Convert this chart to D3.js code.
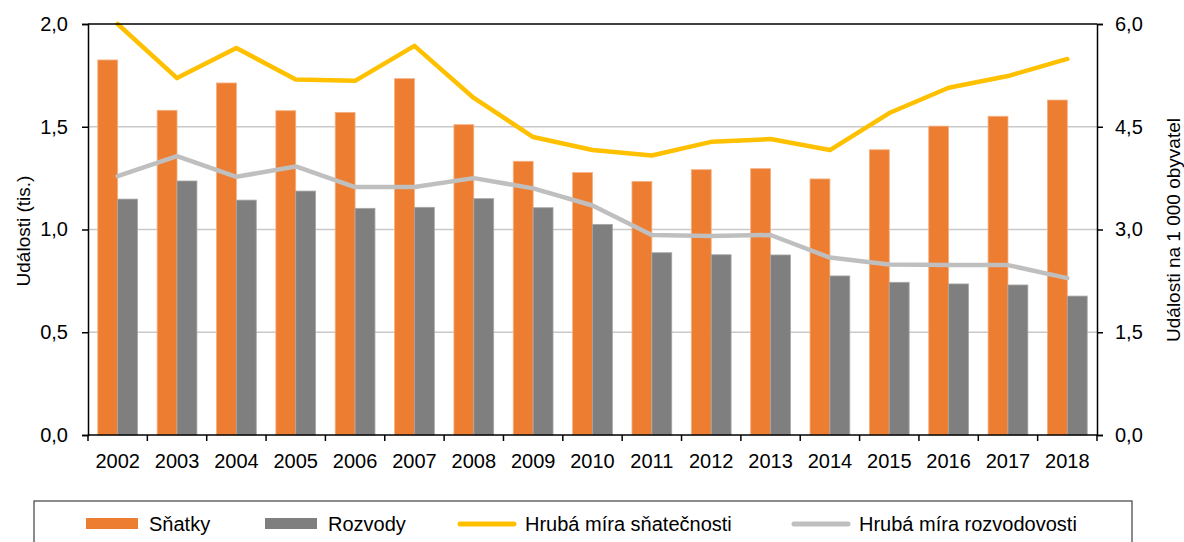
<!DOCTYPE html>
<html>
<head>
<meta charset="utf-8">
<script src="https://cdn.jsdelivr.net/npm/d3@7"></script>
<style>
  body { margin: 0; background: #fff; }
  text { font-family: "Liberation Sans", Arial, sans-serif; fill: #000; }
</style>
</head>
<body>
<div id="main"></div>
<script>
// data
var years = ["2002","2003","2004","2005","2006","2007","2008","2009","2010","2011","2012","2013","2014","2015","2016","2017","2018"];
var snatky = [1.825, 1.58, 1.713, 1.578, 1.570, 1.734, 1.510, 1.332, 1.277, 1.234, 1.291, 1.296, 1.246, 1.388, 1.503, 1.551, 1.630];
var rozvody = [1.148, 1.236, 1.143, 1.187, 1.103, 1.108, 1.150, 1.106, 1.025, 0.887, 0.877, 0.876, 0.774, 0.743, 0.735, 0.730, 0.676];
var miraSnatecnosti = [6.0, 5.21, 5.65, 5.19, 5.17, 5.68, 4.92, 4.35, 4.16, 4.08, 4.28, 4.32, 4.16, 4.70, 5.07, 5.24, 5.49];
var miraRozvodovosti = [3.78, 4.07, 3.77, 3.92, 3.62, 3.62, 3.75, 3.60, 3.35, 2.92, 2.905, 2.92, 2.59, 2.49, 2.48, 2.48, 2.29];
var leftTicks = [0, 0.5, 1.0, 1.5, 2.0];
var rightTicks = [0, 1.5, 3.0, 4.5, 6.0];
var legendItems = [
  {name: "Sňatky", type: "bar", color: "#ED7D31"},
  {name: "Rozvody", type: "bar", color: "#7F7F7F"},
  {name: "Hrubá míra sňatečnosti", type: "line", color: "#FFC000"},
  {name: "Hrubá míra rozvodovosti", type: "line", color: "#BFBFBF"}
];

var W = 1184, H = 542;
var margin = {top: 24, right: 87, bottom: 107, left: 88},
    width = W - margin.left - margin.right,
    height = H - margin.top - margin.bottom;

var fmt = function(d) { return d3.format(".1f")(d).replace(".", ","); };

var root = d3.select("#main")
  .append("svg")
    .attr("width", W)
    .attr("height", H);

var svg = root.append("g")
    .attr("transform", "translate(" + margin.left + "," + margin.top + ")");

var x = d3.scaleBand()
    .domain(years)
    .range([0, width])
    .paddingInner(0.33)
    .paddingOuter(0.165);

var xSub = d3.scaleBand()
    .domain(["s", "r"])
    .range([0, x.bandwidth()]);

var yL = d3.scaleLinear().domain([0, 2]).range([height, 0]);
var yR = d3.scaleLinear().domain([0, 6]).range([height, 0]);

// gridlines
svg.append("g")
  .selectAll("line")
  .data(leftTicks.filter(function(d) { return d > 0 && d < 2; }))
  .enter().append("line")
    .attr("x1", 0).attr("x2", width)
    .attr("y1", function(d) { return yL(d); })
    .attr("y2", function(d) { return yL(d); })
    .attr("stroke", "#c9c9c9")
    .attr("stroke-width", 1.5);

// bars
var groups = svg.append("g")
  .selectAll("g")
  .data(years)
  .enter().append("g")
    .attr("transform", function(d) { return "translate(" + x(d) + ",0)"; });

groups.append("rect")
    .attr("x", xSub("s"))
    .attr("width", xSub.bandwidth())
    .attr("y", function(d, i) { return yL(snatky[i]); })
    .attr("height", function(d, i) { return height - yL(snatky[i]); })
    .attr("fill", "#ED7D31")
    .attr("stroke", "#F4B183")
    .attr("stroke-width", 0.8);

groups.append("rect")
    .attr("x", xSub("r"))
    .attr("width", xSub.bandwidth())
    .attr("y", function(d, i) { return yL(rozvody[i]); })
    .attr("height", function(d, i) { return height - yL(rozvody[i]); })
    .attr("fill", "#7F7F7F")
    .attr("stroke", "#A6A6A6")
    .attr("stroke-width", 0.8);

// lines
var cx = function(d, i) { return x(years[i]) + x.bandwidth() / 2; };

var line = d3.line()
    .x(cx)
    .y(function(d) { return yR(d); });

svg.append("path")
    .datum(miraRozvodovosti)
    .attr("d", line)
    .attr("fill", "none")
    .attr("stroke", "#BFBFBF")
    .attr("stroke-width", 4.5)
    .attr("stroke-linejoin", "round")
    .attr("stroke-linecap", "round");

svg.append("path")
    .datum(miraSnatecnosti)
    .attr("d", line)
    .attr("fill", "none")
    .attr("stroke", "#FFC000")
    .attr("stroke-width", 4.5)
    .attr("stroke-linejoin", "round")
    .attr("stroke-linecap", "round");

// top border
svg.append("line")
    .attr("x1", 0).attr("x2", width)
    .attr("y1", 0).attr("y2", 0)
    .attr("stroke", "#000")
    .attr("stroke-width", 1.5);

// axes
var leftAxis = svg.append("g")
    .call(d3.axisLeft(yL).tickValues(leftTicks).tickFormat(fmt).tickSize(6).tickPadding(14));

var rightAxis = svg.append("g")
    .attr("transform", "translate(" + width + ",0)")
    .call(d3.axisRight(yR).tickValues(rightTicks).tickFormat(fmt).tickSize(6).tickPadding(12));

var bottomAxis = svg.append("g")
    .attr("transform", "translate(0," + height + ")")
    .call(d3.axisBottom(x).tickSize(0).tickPadding(19));

// category boundary ticks
svg.append("g")
  .selectAll("line")
  .data(d3.range(years.length + 1))
  .enter().append("line")
    .attr("x1", function(i) { return i * width / years.length; })
    .attr("x2", function(i) { return i * width / years.length; })
    .attr("y1", height).attr("y2", height + 6)
    .attr("stroke", "#000")
    .attr("stroke-width", 1.5);

[leftAxis, rightAxis, bottomAxis].forEach(function(a) {
  a.select(".domain").attr("stroke", "#000").attr("stroke-width", 1.5);
  a.selectAll(".tick line").attr("stroke", "#000").attr("stroke-width", 1.5);
  a.selectAll("text")
    .style("font-family", '"Liberation Sans", Arial, sans-serif')
    .style("font-size", "20px")
    .attr("fill", "#000");
});
bottomAxis.select(".domain").attr("d", "M0,0H" + width);

// axis titles
root.append("text")
    .attr("transform", "translate(30,231)rotate(-90)")
    .attr("text-anchor", "middle")
    .style("font-size", "19px")
    .text("Události (tis.)");

root.append("text")
    .attr("transform", "translate(1180,230)rotate(-90)")
    .attr("text-anchor", "middle")
    .style("font-size", "19px")
    .text("Události na 1 000 obyvatel");

// legend
var lg = root.append("g");
lg.append("rect")
    .attr("x", 34).attr("y", 501)
    .attr("width", 1098).attr("height", 60)
    .attr("fill", "none")
    .attr("stroke", "#404040")
    .attr("stroke-width", 1.2);

var legendX = [86, 265, 459, 793];
var items = lg.selectAll("g.item")
  .data(legendItems)
  .enter().append("g")
    .attr("class", "item")
    .attr("transform", function(d, i) { return "translate(" + legendX[i] + ",524)"; });

items.filter(function(d) { return d.type === "bar"; })
  .append("rect")
    .attr("x", 0).attr("y", -6)
    .attr("width", 52).attr("height", 11)
    .attr("fill", function(d) { return d.color; });

items.filter(function(d) { return d.type === "line"; })
  .append("line")
    .attr("x1", 1).attr("x2", 55)
    .attr("y1", 0).attr("y2", 0)
    .attr("stroke", function(d) { return d.color; })
    .attr("stroke-width", 5)
    .attr("stroke-linecap", "round");

items.append("text")
    .attr("x", function(d) { return d.type === "bar" ? 63 : 66; })
    .attr("y", 0)
    .attr("dy", "0.35em")
    .style("font-size", "20px")
    .text(function(d) { return d.name; });
</script>
</body>
</html>
